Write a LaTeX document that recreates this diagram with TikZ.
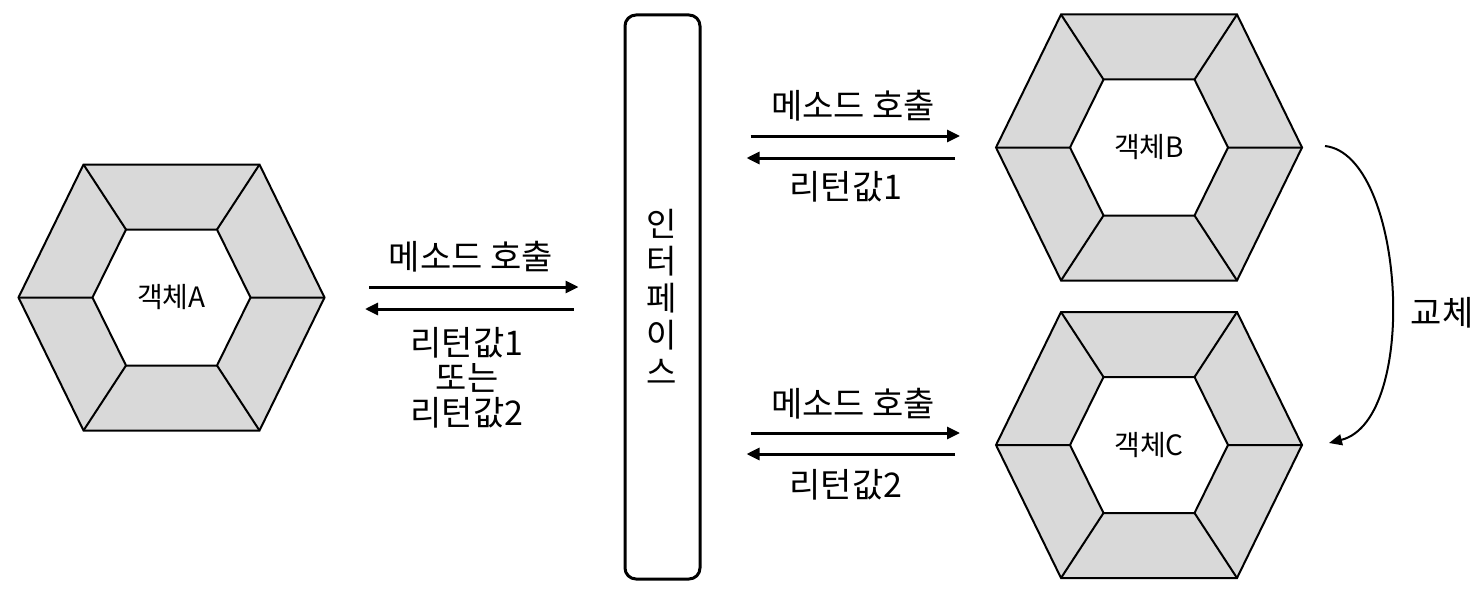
\documentclass[tikz,border=0pt]{standalone}
\usepackage{fontspec}
\setmainfont{Noto Sans CJK KR}
\usetikzlibrary{arrows.meta,calc}
\definecolor{hexgray}{HTML}{D9D9D9}
\tikzset{
  hexline/.style={line width=2pt, line join=miter},
  msgarrow/.style={line width=3pt, -{Triangle[length=13pt,width=12pt]}},
  lbl/.style={font=\fontsize{34}{35}\selectfont, inner sep=0pt, align=center},
  objlbl/.style={font=\fontsize{28}{30}\selectfont, inner sep=0pt},
  ifacebox/.style={draw, line width=3pt, rounded corners=11pt, minimum width=75pt, minimum height=564pt, inner sep=0pt}
}
\newcommand\hexobj[4]{%
  \begin{scope}[shift={(#2,#3)}]
    \fill[hexgray] (-153,0)--(-88,-133)--(88,-133)--(153,0)--(88,133)--(-88,133)--cycle;
    \fill[white] (-79,0)--(-45.5,-68)--(45.5,-68)--(79,0)--(45.5,68)--(-45.5,68)--cycle;
    \draw[hexline] (-153,0)--(-88,-133)--(88,-133)--(153,0)--(88,133)--(-88,133)--cycle;
    \draw[hexline] (-79,0)--(-45.5,-68)--(45.5,-68)--(79,0)--(45.5,68)--(-45.5,68)--cycle;
    \draw[hexline] (-153,0)--(-79,0) (153,0)--(79,0)
      (-88,-133)--(-45.5,-68) (88,-133)--(45.5,-68)
      (-88,133)--(-45.5,68) (88,133)--(45.5,68);
  \end{scope}
  \node[objlbl] (#1) at (#2,#3) {#4};
}
\begin{document}
\begin{tikzpicture}[x=1pt,y=-1pt]
  \useasboundingbox (0,0) rectangle (1479,591);
  \hexobj{A}{171.5}{297.5}{객체A}
  \hexobj{B}{1149}{147.5}{객체B}
  \hexobj{C}{1149}{445}{객체C}
  \node[ifacebox] (I) at (662.5,297) {};
  \node[lbl, font=\fontsize{33}{37}\selectfont] (Itext) at (662,297) {인\\터\\페\\이\\스};

  % A <-> interface
  \draw[msgarrow] ($(A)+(197.5,-10.5)$) -- ($(I.west |- A)+(-45,-10.5)$);
  \draw[msgarrow] ($(I.west |- A)+(-50,11.5)$) -- ($(A)+(193.5,11.5)$);
  \node[lbl] (callA) at (471,257) {메소드 호출};
  \node[lbl] (retA) at (467,378) {리턴값1\\또는\\리턴값2};

  % interface <-> B
  \draw[msgarrow] ($(I.east |- B)+(49,-11.5)$) -- ($(B)+(-189,-11.5)$);
  \draw[msgarrow] ($(B)+(-194,10.5)$) -- ($(I.east |- B)+(45,10.5)$);
  \node[lbl] (callB) at (853,106) {메소드 호출};
  \node[lbl] (retB) at (846,187) {리턴값1};

  % interface <-> C
  \draw[msgarrow] ($(I.east |- C)+(49,-12)$) -- ($(C)+(-189,-12)$);
  \draw[msgarrow] ($(C)+(-194,9)$) -- ($(I.east |- C)+(45,9)$);
  \node[lbl] (callC) at (853,404) {메소드 호출};
  \node[lbl] (retC) at (846,485) {리턴값2};

  % replacement
  \coordinate (bs) at ($(B)+(176,-1.5)$);
  \coordinate (ce) at ($(C)+(180,-2)$);
  \draw[line width=2pt, -{Triangle[length=13pt,width=11pt]}] (bs) .. controls (1405,155) and (1420,420) .. (ce);
  \node[lbl] (swap) at (1442,313) {교체};
\end{tikzpicture}
\end{document}
